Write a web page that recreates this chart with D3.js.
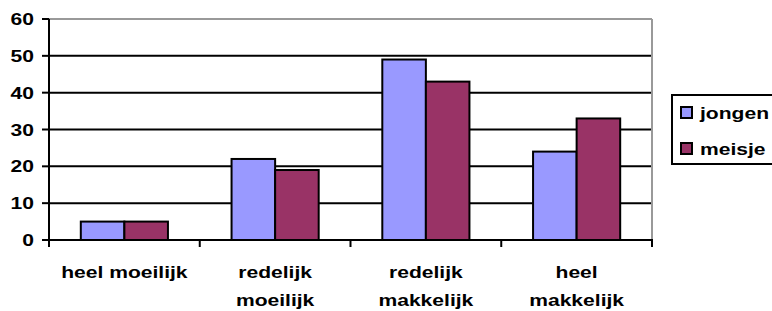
<!DOCTYPE html>
<html lang="nl">
<head>
<meta charset="UTF-8">
<script src="https://d3js.org/d3.v7.min.js"></script>
<style>
  body { margin: 0; background: #fff; }
  text { font-family: "Liberation Sans", Arial, sans-serif; font-weight: bold; font-size: 17px; fill: #000; }
</style>
</head>
<body>
<div id="chart"></div>
<script>
    // data
    const categories = ["heel moeilijk", "redelijk moeilijk", "redelijk makkelijk", "heel makkelijk"];
    const catLines = [["heel moeilijk"], ["redelijk", "moeilijk"], ["redelijk", "makkelijk"], ["heel", "makkelijk"]];
    const series = ["jongen", "meisje"];
    const jongen = [5, 22, 49, 24];
    const meisje = [5, 19, 43, 33];
    const yTicks = [0, 10, 20, 30, 40, 50, 60];
    const colors = ["#9999ff", "#993366"];

    const W = 772, H = 311;
    const plotLeft = 49, plotRight = 652, plotTop = 19, plotBottom = 240;
    const sx = 1.24; // text in the picture is stretched sideways

    const svg = d3.select("#chart").append("svg")
        .attr("width", W)
        .attr("height", H);

    const x0 = d3.scaleBand().domain(categories).range([plotLeft, plotRight]).padding(0);
    const x1 = d3.scaleBand().domain(series).range([0, x0.bandwidth()]).paddingInner(0).paddingOuter(0.73);
    const y = d3.scaleLinear().domain([0, 60]).range([plotBottom, plotTop]);

    // gridlines
    svg.append("g")
        .selectAll("line")
        .data(yTicks.filter(t => t > 0))
        .enter()
        .append("line")
        .attr("x1", plotLeft).attr("x2", plotRight)
        .attr("y1", d => y(d)).attr("y2", d => y(d))
        .attr("stroke", d => d === 60 ? "#999" : "#000")
        .attr("stroke-width", 2);

    // right border of plot area
    svg.append("line")
        .attr("x1", plotRight).attr("x2", plotRight)
        .attr("y1", plotTop).attr("y2", plotBottom)
        .attr("stroke", "#999").attr("stroke-width", 2);

    // bars
    const rows = categories.map((c, i) => ({ cat: c, vals: [jongen[i], meisje[i]] }));
    svg.append("g")
        .selectAll("g")
        .data(rows)
        .enter()
        .append("g")
        .attr("transform", d => `translate(${x0(d.cat)},0)`)
        .selectAll("rect")
        .data(d => d.vals.map((v, j) => ({ s: series[j], v: v, j: j })))
        .enter()
        .append("rect")
        .attr("x", d => x1(d.s))
        .attr("y", d => y(d.v))
        .attr("width", x1.bandwidth())
        .attr("height", d => y(0) - y(d.v))
        .attr("fill", d => colors[d.j])
        .attr("stroke", "#000")
        .attr("stroke-width", 2);

    // y axis
    const yAxis = svg.append("g");
    yAxis.append("line")
        .attr("x1", plotLeft).attr("x2", plotLeft)
        .attr("y1", plotTop).attr("y2", plotBottom + 1)
        .attr("stroke", "#000").attr("stroke-width", 2);
    yAxis.selectAll("line.tick")
        .data(yTicks)
        .enter()
        .append("line")
        .attr("class", "tick")
        .attr("x1", plotLeft - 7).attr("x2", plotLeft)
        .attr("y1", d => y(d)).attr("y2", d => y(d))
        .attr("stroke", "#000").attr("stroke-width", 2);
    yAxis.selectAll("text")
        .data(yTicks)
        .enter()
        .append("text")
        .attr("text-anchor", "end")
        .attr("transform", d => `translate(34,${y(d) + 6}) scale(${sx},1)`)
        .text(d => d);

    // x axis
    const xAxis = svg.append("g");
    xAxis.append("line")
        .attr("x1", plotLeft - 7).attr("x2", plotRight + 1)
        .attr("y1", plotBottom).attr("y2", plotBottom)
        .attr("stroke", "#000").attr("stroke-width", 2);
    const bounds = categories.map(c => x0(c)).concat([plotRight]);
    xAxis.selectAll("line.tick")
        .data(bounds)
        .enter()
        .append("line")
        .attr("class", "tick")
        .attr("x1", d => d).attr("x2", d => d)
        .attr("y1", plotBottom).attr("y2", plotBottom + 7)
        .attr("stroke", "#000").attr("stroke-width", 2);
    const labels = xAxis.selectAll("g.lab")
        .data(categories)
        .enter()
        .append("g")
        .attr("class", "lab");
    labels.each(function(c, i) {
        const cx = x0(c) + x0.bandwidth() / 2;
        d3.select(this).selectAll("text")
            .data(catLines[i])
            .enter()
            .append("text")
            .attr("text-anchor", "middle")
            .attr("transform", (t, k) => `translate(${cx},${278 + k * 28}) scale(${sx},1)`)
            .text(t => t);
    });

    // legend
    const legend = svg.append("g");
    legend.append("rect")
        .attr("x", 672).attr("y", 95)
        .attr("width", 120).attr("height", 69)
        .attr("fill", "#fff")
        .attr("stroke", "#000").attr("stroke-width", 2);
    series.forEach((s, i) => {
        legend.append("rect")
            .attr("x", 681).attr("y", 107 + i * 36)
            .attr("width", 11).attr("height", 11)
            .attr("fill", colors[i])
            .attr("stroke", "#000").attr("stroke-width", 2);
        legend.append("text")
            .attr("transform", `translate(700,${119 + i * 36}) scale(${sx},1)`)
            .text(s);
    });
</script>
</body>
</html>
